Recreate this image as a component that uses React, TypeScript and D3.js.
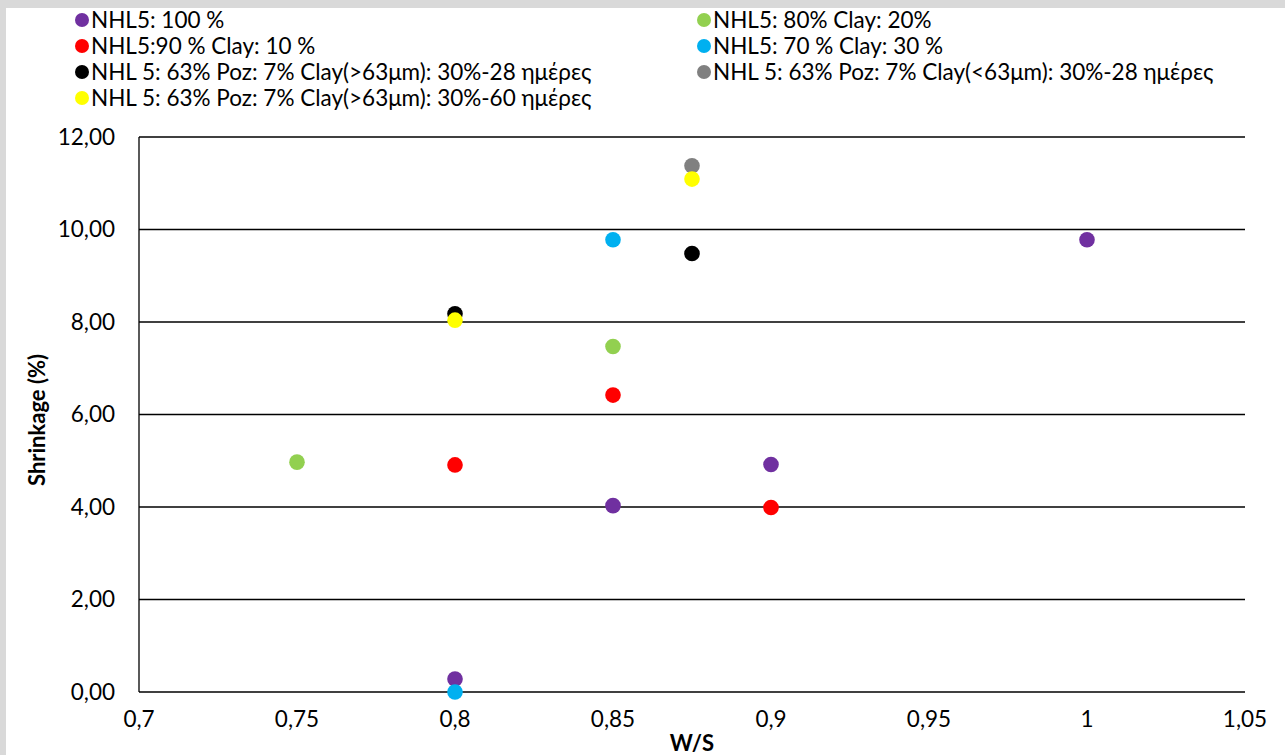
import React from "react";
import * as d3 from "d3";

const xTicks = [0.7, 0.75, 0.8, 0.85, 0.9, 0.95, 1, 1.05];
const yTicks = [0, 2, 4, 6, 8, 10, 12];

const seriesNames = [
  "NHL5: 100 %",
  "NHL5: 80% Clay: 20%",
  "NHL5:90 % Clay: 10 %",
  "NHL5: 70 % Clay: 30 %",
  "NHL 5: 63% Poz: 7% Clay(>63μm): 30%-28 ημέρες",
  "NHL 5: 63% Poz: 7% Clay(<63μm): 30%-28 ημέρες",
  "NHL 5: 63% Poz: 7% Clay(>63μm): 30%-60 ημέρες",
];
const seriesColors = ["#7030a0", "#92d050", "#ff0000", "#00b0f0", "#000000", "#808080", "#ffff00"];

const nhl100X = [0.8, 0.85, 0.9, 1.0];
const nhl100Y = [0.28, 4.03, 4.92, 9.78];
const clay20X = [0.75, 0.85];
const clay20Y = [4.97, 7.47];
const clay10X = [0.8, 0.85, 0.9];
const clay10Y = [4.91, 6.42, 3.99];
const clay30X = [0.8, 0.85];
const clay30Y = [0.0, 9.78];
const poz28gX = [0.8, 0.875];
const poz28gY = [8.18, 9.48];
const poz28fX = [0.875];
const poz28fY = [11.38];
const poz60gX = [0.8, 0.875];
const poz60gY = [8.04, 11.09];

const seriesX = [nhl100X, clay20X, clay10X, clay30X, poz28gX, poz28fX, poz60gX];
const seriesY = [nhl100Y, clay20Y, clay10Y, clay30Y, poz28gY, poz28fY, poz60gY];

const fmtY = (v: number) => v.toFixed(2).replace(".", ",");
const fmtX = (v: number) => String(v).replace(".", ",");

export default function App() {
  const W = 1285, H = 755;
  const x = d3.scaleLinear().domain([0.7, 1.05]).range([139, 1245]);
  const y = d3.scaleLinear().domain([0, 12]).range([692, 137]);
  const font = "Lato, 'Open Sans', sans-serif";
  const legendPos = [
    [82, 20], [704, 20], [82, 46], [704, 46], [82, 72], [704, 72], [82, 98],
  ];
  const drawOrder = [4, 5, 6, 0, 1, 2, 3];
  return (
    <svg width={W} height={H} style={{ position: "absolute", left: 0, top: 0 }} fontFamily={font}>
      <rect x={0} y={0} width={W} height={H} fill="#d9d9d9" />
      <rect x={6} y={8} width={W - 6} height={H - 8} fill="#ffffff" />
      {yTicks.map((t) => (
        <line key={"g" + t} x1={139} x2={1245} y1={y(t)} y2={y(t)} stroke="#000" strokeWidth={1.3} />
      ))}
      <line x1={139} x2={139} y1={137} y2={692} stroke="#000" strokeWidth={1.3} />
      {yTicks.map((t) => (
        <text key={"yl" + t} x={115} y={y(t)} dy="0.35em" textAnchor="end" fontSize={22.5} fill="#000">
          {fmtY(t)}
        </text>
      ))}
      {xTicks.map((t) => (
        <text key={"xl" + t} x={x(t)} y={719} dy="0.35em" textAnchor="middle" fontSize={22.5} fill="#000">
          {fmtX(t)}
        </text>
      ))}
      <text x={692} y={743} dy="0.35em" textAnchor="middle" fontSize={22} fontWeight="bold" fill="#000">
        W/S
      </text>
      <text
        transform={`translate(37,420) rotate(-90)`}
        dy="0.35em"
        textAnchor="middle"
        fontSize={22}
        fontWeight="bold"
        fill="#000"
      >
        Shrinkage (%)
      </text>
      {drawOrder.map((si) =>
        seriesX[si].map((xv, i) => (
          <circle key={si + "-" + i} cx={x(xv)} cy={y(seriesY[si][i])} r={7.8} fill={seriesColors[si]} />
        ))
      )}
      {seriesNames.map((n, i) => (
        <g key={"lg" + i}>
          <circle cx={legendPos[i][0]} cy={legendPos[i][1]} r={7} fill={seriesColors[i]} />
          <text x={legendPos[i][0] + 9} y={legendPos[i][1]} dy="0.35em" fontSize={22.5} fill="#000">
            {n}
          </text>
        </g>
      ))}
    </svg>
  );
}
